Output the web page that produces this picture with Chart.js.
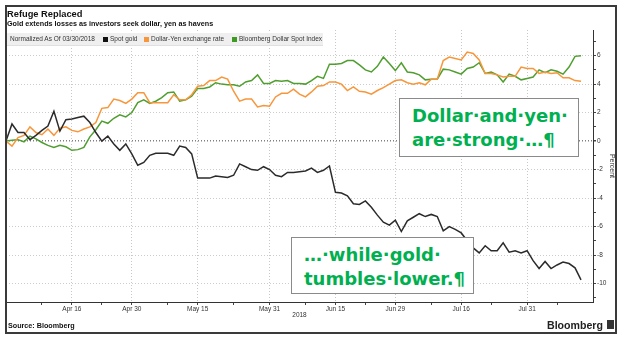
<!DOCTYPE html>
<html>
<head>
<meta charset="utf-8">
<script src="https://cdn.jsdelivr.net/npm/chart.js@4/dist/chart.umd.min.js"></script>
<style>
  html, body { margin: 0; padding: 0; background: #fff; }
  #wrap { position: relative; width: 624px; height: 340px; overflow: hidden; font-family: "Liberation Sans", Arial, sans-serif; }
  #c { position: absolute; left: 0; top: 0; }
  .t { position: absolute; white-space: nowrap; line-height: 1; color: #111; }
  #frame { position: absolute; left: 5px; top: 5px; width: 612px; height: 329px; box-sizing: border-box; border: 2px solid #3a3a3a; pointer-events: none; }
  #legend { position: absolute; left: 7px; top: 33px; width: 316px; height: 12px; background: #efefef; border-bottom: 1px solid #e0e0e0; }
  .sq { position: absolute; top: 37px; width: 5px; height: 5px; }
  .note { position: absolute; background: #fff; border: 1px solid #8a8a8a; box-sizing: border-box;
          font-family: "DejaVu Sans", sans-serif; font-weight: bold; font-size: 18px; line-height: 24px;
          color: #00b050; padding: 5px 0 0 12px; white-space: nowrap; }
</style>
</head>
<body>
<div id="wrap">
  <canvas id="c" width="624" height="340"></canvas>

  <div class="t" style="left:7px; top:9.6px; font-size:9.3px; font-weight:bold;">Refuge Replaced</div>
  <div class="t" style="left:7px; top:20.4px; font-size:7.2px; font-weight:bold;">Gold extends losses as investors seek dollar, yen as havens</div>

  <div id="legend"></div>
  <div class="t" style="left:10px; top:35.7px; font-size:6.5px; color:#333;">Normalized As Of 03/30/2018</div>
  <div class="sq" style="left:103px; background:#111;"></div>
  <div class="t" style="left:110px; top:35.7px; font-size:6.5px; color:#333;">Spot gold</div>
  <div class="sq" style="left:144px; background:#f7963a;"></div>
  <div class="t" style="left:151px; top:35.7px; font-size:6.5px; color:#333;">Dollar-Yen exchange rate</div>
  <div class="sq" style="left:232px; background:#3f9a22;"></div>
  <div class="t" style="left:239px; top:35.7px; font-size:6.5px; color:#333;">Bloomberg Dollar Spot Index</div>

  <div class="note" style="left:399px; top:98px; width:180px; height:59px;">Dollar·and·yen·<br>are·strong·…¶</div>
  <div class="note" style="left:291px; top:237px; width:183px; height:57px;">…·while·gold·<br>tumbles·lower.¶</div>

  <div class="t" style="left:8px; top:322.2px; font-size:7.2px; font-weight:bold;">Source: Bloomberg</div>
  <div class="t" style="left:547px; top:319.5px; font-size:10.6px; font-weight:bold; color:#222;">Bloomberg</div>
  <div style="position:absolute; left:607px; top:320px; width:7px; height:9px; background:#333;"></div>

  <div id="frame"></div>
</div>

<script>
// Normalized % change since 03/30/2018, one value per business day
const gold = [
  0, 1.2, 0.6, 0.6, 0.1, 0.4, 0.75, 1.05, 2.1, 0.7,
  1.5, 1.55, 1.65, 1.75, 1.3, 0.6, 0.0, 0.35, -0.2, -0.65,
  -0.2, -0.9, -1.7, -1.5, -1.0, -0.85, -0.85, -0.85, -1.0, -0.35,
  -0.45, -0.9, -2.6, -2.6, -2.6, -2.45, -2.5, -2.55, -2.4, -1.6,
  -1.8, -2.0, -2.05, -1.8, -2.0, -2.4, -2.5, -2.2, -2.2, -2.15,
  -2.1, -1.9, -2.2, -2.05, -1.75, -3.6, -3.65, -3.85, -4.4, -4.45,
  -4.2, -4.65, -5.2, -5.7, -5.9, -5.55, -6.35, -5.6, -5.35, -5.1,
  -5.3, -5.15, -5.3, -6.3, -6.0, -6.2, -6.45, -7.0, -7.5, -7.85,
  -7.35, -7.7, -7.7, -7.15, -7.8, -7.7, -7.85, -7.7, -8.4, -8.95,
  -8.45, -8.95, -8.7, -8.5, -8.6, -8.9, -9.75
]
const usdJpy = [
  0, -0.35, 0.25, 0.4, 1.0, 0.6, 0.45, 0.85, 0.4, 0.9,
  1.0, 0.75, 0.65, 0.85, 1.0, 1.3, 2.3, 2.35, 2.95, 2.85,
  2.65, 2.95, 3.4, 3.4, 2.7, 2.7, 2.7, 2.7, 3.25, 2.9,
  2.9, 3.25, 3.85, 3.9, 4.25, 4.25, 4.5, 4.35, 3.5, 2.8,
  2.95, 2.95, 2.4, 2.5, 2.45, 3.1, 3.35, 3.35, 3.65, 3.3,
  3.1, 3.45, 3.85, 3.9, 4.15, 4.15, 4.0, 3.55, 3.8, 3.5,
  3.45, 3.3, 3.55, 3.75, 4.0, 4.25, 4.3, 4.1, 4.0, 4.1,
  3.95, 4.35, 4.35, 5.65, 5.9, 5.8, 5.7, 6.25, 6.15, 5.7,
  4.75, 4.75, 4.65, 4.5, 4.55, 4.55, 5.2, 5.1, 5.1, 4.75,
  4.85, 4.75, 4.8, 4.45, 4.45, 4.25, 4.2
]
const dollarIndex = [
  0, 0.05, 0.1, -0.05, 0.35, 0.15, -0.1, -0.3, -0.45, -0.3,
  -0.4, -0.65, -0.6, -0.45, 0.3, 0.8, 1.4, 1.25, 1.6, 1.85,
  1.7, 2.0, 2.7, 2.9, 2.65, 2.8, 3.05, 3.4, 3.45, 2.8,
  2.9, 3.15, 3.7, 3.7, 3.8, 4.1, 4.0, 3.95, 3.95, 3.85,
  4.15, 4.25, 4.65, 4.05, 4.05, 4.25, 4.2, 4.25, 4.05, 4.05,
  4.0, 4.25, 4.55, 4.4, 5.4, 5.4, 5.45, 5.65, 5.65, 5.35,
  5.0, 4.85, 5.25, 5.9, 5.45, 4.95, 5.5, 4.85, 4.8, 4.65,
  4.3, 4.35, 4.35, 5.05, 5.0, 4.85, 4.7, 5.1, 5.2, 5.5,
  4.75, 4.85, 4.65, 4.15, 4.7, 4.55, 4.3, 4.4, 4.5, 5.0,
  4.8, 5.0, 4.9, 4.7, 5.2, 5.95, 6.0
]

// x axis: business days 03/30 .. 08/15
const days = []
for (let d = new Date(Date.UTC(2018, 2, 30)); d <= new Date(Date.UTC(2018, 7, 15)); d.setUTCDate(d.getUTCDate() + 1)) {
  const wd = d.getUTCDay()
  if (wd !== 0 && wd !== 6) days.push(d.toISOString().slice(5, 10))
}

const tickDays = ['04-16', '04-30', '05-15', '05-31', '06-15', '06-29', '07-16', '07-31']
const tickLabels = ['Apr 16', 'Apr 30', 'May 15', 'May 31', 'Jun 15', 'Jun 29', 'Jul 16', 'Jul 31']
const minorDays = ['04-09', '04-23', '05-08', '05-23', '06-08', '06-22', '07-09', '07-23', '08-07']
const yTicks = [-11, -10, -9, -8, -7, -6, -5, -4, -3, -2, -1, 0, 1, 2, 3, 4, 5, 6, 7]

const small = { family: '"Liberation Sans", Arial, sans-serif', size: 6.5 }

new Chart(document.getElementById('c'), {
  type: 'line',
  data: {
    labels: days,
    datasets: [
      { label: 'Spot gold', data: gold, borderColor: '#2b2b2b' },
      { label: 'Dollar-Yen exchange rate', data: usdJpy, borderColor: '#f7963a' },
      { label: 'Bloomberg Dollar Spot Index', data: dollarIndex, borderColor: '#4f9e2f' }
    ]
  },
  options: {
    responsive: false,
    animation: false,
    layout: { padding: { left: 6, right: 8, top: 30, bottom: 21 } },
    elements: {
      point: { radius: 0 },
      line: { borderWidth: 1.5, tension: 0 }
    },
    plugins: {
      legend: { display: false },
      tooltip: { enabled: false }
    },
    scales: {
      x: {
        ticks: {
          autoSkip: false,
          maxRotation: 0,
          padding: 0,
          color: '#333',
          font: small,
          callback: (v, i) => {
            const k = tickDays.indexOf(days[i])
            return k >= 0 ? tickLabels[k] : ''
          }
        },
        grid: {
          tickLength: 3,
          color: c => tickDays.includes(days[c.index]) ? '#c8c8c8' : 'rgba(0,0,0,0)',
          tickColor: c => (tickDays.includes(days[c.index]) || minorDays.includes(days[c.index])) ? '#444' : 'rgba(0,0,0,0)'
        },
        border: { color: '#333', width: 1, dash: [1, 2] },
        title: { display: true, text: '2018', color: '#333', font: small, padding: 0 },
        afterFit: s => { s.height = 17 }
      },
      y: {
        position: 'right',
        min: -11.3,
        max: 7.8,
        afterBuildTicks: s => { s.ticks = yTicks.map(value => ({ value })) },
        ticks: {
          padding: 1,
          color: '#333',
          font: small,
          callback: v => v % 2 === 0 ? String(v) : ''
        },
        grid: {
          tickLength: 3,
          color: c => c.tick.value === 0 ? '#808080' : (c.tick.value % 2 === 0 ? '#cccccc' : 'rgba(0,0,0,0)'),
          lineWidth: c => c.tick.value === 0 ? 1.5 : 1,
          tickColor: '#444'
        },
        border: { color: '#333', width: 1, dash: [1, 2] },
        title: { display: true, text: 'Percent', color: '#333', font: { family: small.family, size: 7 }, padding: 0 },
        afterFit: s => { s.width = 23 }
      }
    }
  }
})
</script>
</body>
</html>
